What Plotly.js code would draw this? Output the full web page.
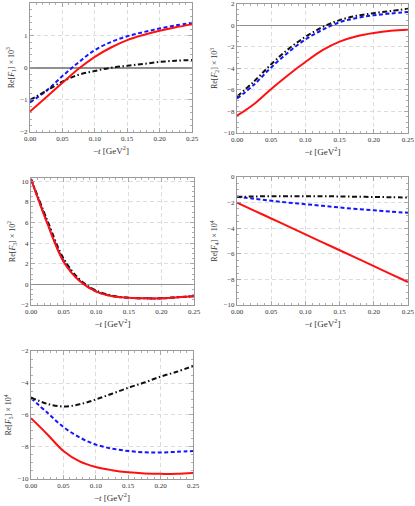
<!DOCTYPE html>
<html>
<head>
<meta charset="utf-8">
<script src="https://cdn.plot.ly/plotly-3.0.1.min.js"></script>
<style>
  html, body { margin: 0; padding: 0; background: #fff; }
  #chart { width: 415px; height: 506px; }
</style>
</head>
<body>
<div id="chart"></div>
<script>
// -t in GeV^2
const tValues = [0, 0.025, 0.05, 0.075, 0.1, 0.125, 0.15, 0.175, 0.2, 0.225, 0.25];

// Re[F1] x 10^3
const f1Red   = [-1.36, -0.92, -0.47, -0.03, 0.34, 0.63, 0.86, 1.02, 1.15, 1.26, 1.35];
const f1Blue  = [-1.08, -0.72, -0.26, 0.17, 0.55, 0.80, 0.98, 1.11, 1.22, 1.32, 1.40];
const f1Black = [-1.00, -0.72, -0.43, -0.22, -0.10, 0.00, 0.06, 0.12, 0.18, 0.22, 0.24];

// Re[F2] x 10^3
const f2Red   = [-8.4, -7.3, -5.9, -4.6, -3.4, -2.3, -1.5, -1.0, -0.7, -0.5, -0.4];
const f2Blue  = [-6.8, -5.5, -3.9, -2.5, -1.3, -0.4, 0.3, 0.7, 0.95, 1.12, 1.25];
const f2Black = [-6.6, -5.2, -3.6, -2.2, -1.05, -0.15, 0.5, 0.9, 1.15, 1.35, 1.55];

// Re[F3] x 10^2
const f3Red   = [10.2, 5.9, 2.2, 0.3, -0.7, -1.15, -1.3, -1.35, -1.35, -1.25, -1.15];
const f3Blue  = [10.2, 6.0, 2.3, 0.35, -0.68, -1.13, -1.3, -1.35, -1.35, -1.25, -1.15];
const f3Black = [10.2, 6.2, 2.5, 0.45, -0.6, -1.1, -1.3, -1.35, -1.35, -1.25, -1.15];

// Re[F4] x 10^4
const f4Red   = [-2.0, -2.62, -3.24, -3.86, -4.48, -5.1, -5.72, -6.34, -6.96, -7.58, -8.2];
const f4Blue  = [-1.55, -1.7, -1.85, -2.0, -2.12, -2.25, -2.38, -2.5, -2.6, -2.7, -2.8];
const f4Black = [-1.55, -1.52, -1.5, -1.5, -1.5, -1.5, -1.52, -1.54, -1.56, -1.58, -1.6];

// Re[F5] x 10^4
const f5Red   = [-6.2, -7.2, -8.25, -8.9, -9.25, -9.45, -9.58, -9.65, -9.68, -9.67, -9.62];
const f5Blue  = [-4.95, -5.85, -6.75, -7.4, -7.85, -8.1, -8.25, -8.33, -8.35, -8.3, -8.25];
const f5Black = [-4.9, -5.3, -5.47, -5.33, -5.03, -4.67, -4.3, -3.97, -3.6, -3.3, -2.93];

const panels = [
  {red: f1Red, blue: f1Blue, black: f1Black, idx: 1, exp: 3, range: [-2, 2], dtick: 1,
   x: [0.0723, 0.4627], y: [0.7391, 0.9931]},
  {red: f2Red, blue: f2Blue, black: f2Black, idx: 2, exp: 3, range: [-10, 2], dtick: 2,
   x: [0.5711, 0.9831], y: [0.7372, 0.9921]},
  {red: f3Red, blue: f3Blue, black: f3Black, idx: 3, exp: 2, range: [-2, 10.3], dtick: 2,
   x: [0.0747, 0.4675], y: [0.3972, 0.6482]},
  {red: f4Red, blue: f4Blue, black: f4Black, idx: 4, exp: 4, range: [-10, 0], dtick: 2,
   x: [0.5711, 0.9831], y: [0.3972, 0.6502]},
  {red: f5Red, blue: f5Blue, black: f5Black, idx: 5, exp: 4, range: [-10, -2], dtick: 2,
   x: [0.0747, 0.4651], y: [0.0534, 0.3063]},
];

const serif = 'Liberation Serif, DejaVu Serif, serif';
const frame = '#9a9a9a';

const traces = [];
const layout = {
  width: 415,
  height: 506,
  margin: {l: 0, r: 0, t: 0, b: 0},
  paper_bgcolor: '#fff',
  plot_bgcolor: '#fff',
  showlegend: false,
  font: {family: serif, size: 8, color: '#333'},
};

for (const p of panels) {
  const sfx = p.idx === 1 ? '' : String(p.idx);
  const xa = 'x' + sfx;
  const ya = 'y' + sfx;

  // blue first, black, red on top
  traces.push({
    type: 'scatter', mode: 'lines', x: tValues, y: p.blue, xaxis: xa, yaxis: ya,
    line: {color: '#1414ff', width: 2, dash: '4px,2.5px', shape: 'spline'},
  });
  traces.push({
    type: 'scatter', mode: 'lines', x: tValues, y: p.black, xaxis: xa, yaxis: ya,
    line: {color: '#111', width: 2, dash: '5px,2.5px,1.5px,2.5px', shape: 'spline'},
  });
  traces.push({
    type: 'scatter', mode: 'lines', x: tValues, y: p.red, xaxis: xa, yaxis: ya,
    line: {color: '#ff1010', width: 2, shape: 'spline'},
  });

  const common = {
    showline: true, linecolor: frame, linewidth: 1, mirror: 'allticks',
    ticks: 'inside', ticklen: 4, tickcolor: frame, tickwidth: 0.8,
    showgrid: true, gridcolor: '#d4d4d4', griddash: '4px,3px', gridwidth: 0.8,
    minor: {ticks: 'inside', ticklen: 2, tickcolor: frame, nticks: 5, showgrid: false},
    tickfont: {family: serif, size: 7, color: '#333'},
  };

  layout['xaxis' + sfx] = Object.assign({}, common, {
    domain: p.x, anchor: ya, range: [0, 0.25], dtick: 0.05, tickformat: '.2f',
    zeroline: false,
    title: {text: '−<i>t</i> [GeV<sup>2</sup>]', font: {family: serif, size: 9, color: '#333'}, standoff: 5},
  });
  layout['yaxis' + sfx] = Object.assign({}, common, {
    domain: p.y, anchor: xa, range: p.range, dtick: p.dtick, tickformat: 'd',
    zeroline: true, zerolinecolor: '#909090', zerolinewidth: 1.5,
    title: {
      text: 'Re[<i>F</i><sub>' + p.idx + '</sub>] × 10<sup>' + p.exp + '</sup>',
      font: {family: serif, size: 8, color: '#333'}, standoff: 4,
    },
  });
}

Plotly.newPlot('chart', traces, layout, {staticPlot: true, displayModeBar: false});
</script>
</body>
</html>
